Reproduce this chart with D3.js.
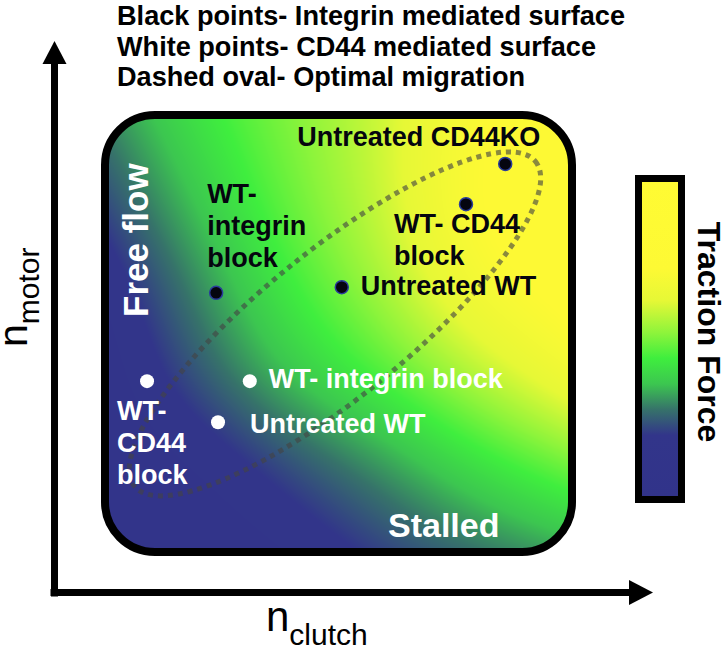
<!DOCTYPE html>
<html>
<head>
<meta charset="utf-8">
<style>
body{margin:0;background:#fff}
svg text{font-family:"Liberation Sans",Arial,Helvetica,sans-serif}
</style>
</head>
<body>
<svg id="chart" width="728" height="654"></svg>
<script src="https://d3js.org/d3.v7.min.js"></script>
<script>
// key text at the top
var legendLines = ["Black points- Integrin mediated surface", "White points- CD44 mediated surface", "Dashed oval- Optimal migration"]

// traction force: rows go from n_motor = 1 (top) to 0, columns n_clutch 0 -> 1
var clutchGrid = [0, 0.2, 0.4, 0.6, 0.8, 1]
var motorGrid = [1, 0.8, 0.6, 0.4, 0.2, 0]
var traction = [
	[0.30, 0.42, 0.51, 0.59, 0.72, 0.76],
	[0.23, 0.37, 0.49, 0.59, 0.74, 0.78],
	[0.15, 0.30, 0.44, 0.55, 0.70, 0.75],
	[0.12, 0.25, 0.37, 0.46, 0.57, 0.68],
	[0.10, 0.14, 0.23, 0.31, 0.41, 0.49],
	[0.10, 0.10, 0.15, 0.22, 0.28, 0.33]
]

// colour map (same as the bar on the right)
var cmapStops = [0, 0.2, 0.28, 0.36, 0.44, 0.52, 0.62, 0.72, 1]
var cmapColors = ["#31338a", "#32358a", "#36726a", "#3cc650", "#3fee3e", "#8ef43b", "#e6f836", "#fdf934", "#fffb33"]

// conditions
var blackNames = [["Untreated CD44KO"], ["WT- CD44", "block"], ["Untreated WT"], ["WT-", "integrin", "block"]]
var blackClutch = [0.857, 0.773, 0.507, 0.238]
var blackMotor = [0.888, 0.796, 0.606, 0.593]
var whiteNames = [["WT-", "CD44", "block"], ["WT- integrin block"], ["Untreated WT"]]
var whiteClutch = [0.090, 0.310, 0.242]
var whiteMotor = [0.391, 0.391, 0.297]

// optimal migration oval centre
var ovalClutch = 0.4925, ovalMotor = 0.522

// ---- layout ----
var blackLabelPos = [[-208, -18], [-72, 29], [19, 8], [-9, -90]]
var whiteLabelPos = [[-30, 39], [19, 7], [32, 11]]
var lineGap = 32

var svg = d3.select('#chart')
var x = d3.scaleLinear().domain([0, 1]).range([105, 572])
var y = d3.scaleLinear().domain([0, 1]).range([552, 115])
var color = d3.scaleLinear().domain(cmapStops).range(cmapColors)

// legend
svg.append('g').selectAll('text').data(legendLines).join('text')
	.attr('x', 117).attr('y', function(d, i) {return 25 + i * 30.5})
	.attr('textLength', function(d, i) {return [508, 479, 408][i]})
	.attr('lengthAdjust', 'spacingAndGlyphs')
	.style('font-family', '"Liberation Sans Narrow","Liberation Sans",Arial,sans-serif')
	.style('font-weight', 'bold').style('font-size', '28px')
	.text(function(d) {return d})

// axes arrows
var ax = 54.5, ay = 592.5
svg.append('path').attr('d', 'M' + ax + ',' + (ay + 4) + 'V62').attr('stroke', '#000').attr('stroke-width', 7)
svg.append('path').attr('d', 'M' + (ax - 12) + ',64L' + ax + ',41L' + (ax + 12) + ',64Z')
svg.append('path').attr('d', 'M' + (ax - 4) + ',' + ay + 'H631').attr('stroke', '#000').attr('stroke-width', 7)
svg.append('path').attr('d', 'M629,' + (ay - 12.5) + 'L653,' + ay + 'L629,' + (ay + 12.5) + 'Z')

// axis titles
var tx = svg.append('text').attr('x', 266).attr('y', 631).style('font-size', '42px')
tx.append('tspan').text('n')
tx.append('tspan').attr('dy', 14).style('font-size', '30px').text('clutch')
var ty = svg.append('text').attr('transform', 'translate(27,347) rotate(-90)').style('font-size', '41px')
ty.append('tspan').text('n')
ty.append('tspan').attr('dy', 12).style('font-size', '30px').text('motor')

// heat map
var x0 = x.range()[0], x1 = x.range()[1], y0 = y.range()[1], y1 = y.range()[0]
var W = Math.round(x1 - x0), H = Math.round(y1 - y0)
var canvas = document.createElement('canvas')
canvas.width = W; canvas.height = H
var ctx = canvas.getContext('2d')
var img = ctx.createImageData(W, H)
var rowSpline = traction.map(function(r) {return d3.interpolateBasis(r)})
for (var i = 0; i < W; i++) {
	var c = x.invert(x0 + i + 0.5)
	var colSpline = d3.interpolateBasis(rowSpline.map(function(f) {return f(c)}))
	for (var j = 0; j < H; j++) {
		var m = y.invert(y0 + j + 0.5)
		var rgb = d3.rgb(color(colSpline(1 - m)))
		var k = (j * W + i) * 4
		img.data[k] = rgb.r; img.data[k + 1] = rgb.g; img.data[k + 2] = rgb.b; img.data[k + 3] = 255
	}
}
ctx.putImageData(img, 0, 0)

var defs = svg.append('defs')
defs.append('clipPath').attr('id', 'mapclip').append('rect')
	.attr('x', x0).attr('y', y0).attr('width', W).attr('height', H).attr('rx', 50)
svg.append('image').attr('href', canvas.toDataURL())
	.attr('x', x0).attr('y', y0).attr('width', W).attr('height', H)
	.attr('preserveAspectRatio', 'none').attr('clip-path', 'url(#mapclip)')

// optimal migration oval
svg.append('ellipse')
	.attr('transform', 'translate(' + x(ovalClutch) + ',' + y(ovalMotor) + ') rotate(-39)')
	.attr('rx', 258).attr('ry', 73)
	.attr('fill', 'none').attr('stroke', '#444').attr('stroke-opacity', 0.62)
	.attr('stroke-width', 5).attr('stroke-dasharray', '5 5')

svg.append('rect').attr('x', x0).attr('y', y0).attr('width', W).attr('height', H).attr('rx', 50)
	.attr('fill', 'none').attr('stroke', '#000').attr('stroke-width', 8)

// region labels
svg.append('text').attr('transform', 'translate(148,317) rotate(-90)')
	.attr('fill', '#fff').style('font-weight', 'bold').style('font-size', '35px').text('Free flow')
svg.append('text').attr('x', 388).attr('y', 537)
	.attr('fill', '#fff').style('font-weight', 'bold').style('font-size', '34px').text('Stalled')

// points
function drawPoints(names, cl, mo, pos, fill, stroke, r) {
	var g = svg.append('g')
	g.selectAll('circle').data(names).join('circle')
		.attr('cx', function(d, i) {return x(cl[i])})
		.attr('cy', function(d, i) {return y(mo[i])})
		.attr('r', r).attr('fill', fill).attr('stroke', stroke).attr('stroke-width', stroke == 'none' ? 0 : 1.5)
	g.selectAll('text').data(names).join('text')
		.attr('x', function(d, i) {return x(cl[i]) + pos[i][0]})
		.attr('y', function(d, i) {return y(mo[i]) + pos[i][1]})
		.attr('fill', fill).style('font-weight', 'bold').style('font-size', '27px')
		.each(function(d, i) {
			var t = d3.select(this)
			d.forEach(function(line, li) {
				t.append('tspan').attr('x', x(cl[i]) + pos[i][0]).attr('dy', li ? lineGap : 0).text(line)
			})
		})
}
drawPoints(blackNames, blackClutch, blackMotor, blackLabelPos, '#05050f', '#2a3c9c', 6.5)
drawPoints(whiteNames, whiteClutch, whiteMotor, whiteLabelPos, '#fff', 'none', 7)

// colour bar
var grad = defs.append('linearGradient').attr('id', 'cbar')
	.attr('x1', 0).attr('y1', 1).attr('x2', 0).attr('y2', 0)
grad.selectAll('stop').data(cmapStops).join('stop')
	.attr('offset', function(d) {return d})
	.attr('stop-color', function(d, i) {return cmapColors[i]})
svg.append('rect').attr('x', 638.5).attr('y', 178.5).attr('width', 43).attr('height', 321)
	.attr('fill', 'url(#cbar)').attr('stroke', '#000').attr('stroke-width', 7)
svg.append('text').attr('transform', 'translate(698,332) rotate(90)').attr('text-anchor', 'middle')
	.style('font-weight', 'bold').style('font-size', '32px').text('Traction Force')
</script>
</body>
</html>
